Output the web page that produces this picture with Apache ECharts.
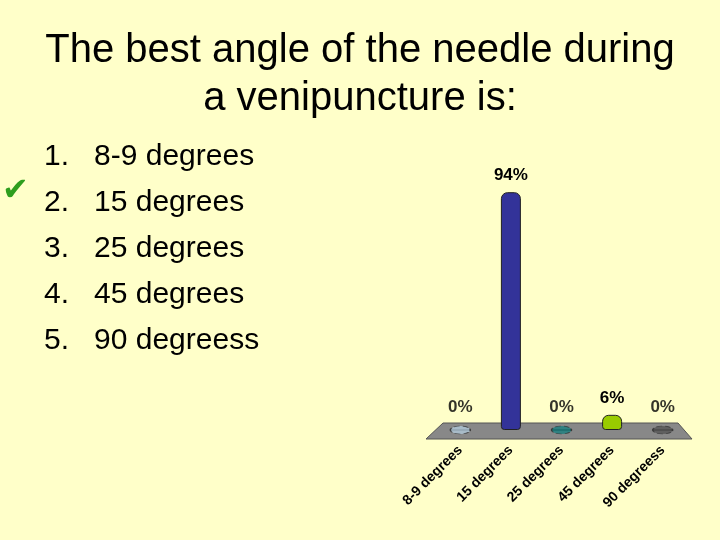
<!DOCTYPE html>
<html>
<head>
<meta charset="utf-8">
<script src="https://cdn.jsdelivr.net/npm/echarts@6/dist/echarts.min.js"></script>
<style>
  html, body { margin: 0; padding: 0; background: #ffffc9; }
  #chart { width: 720px; height: 540px; }
</style>
</head>
<body>
<div id="chart"></div>
<script>
// answer choices and responses
const categories = ['8-9 degrees', '15 degrees', '25 degrees', '45 degrees', '90 degreess'];
const percents = [0, 94, 0, 6, 0];
const barColors = ['#b0c8d8', '#333399', '#1a8080', '#99cc00', '#555555'];
const choices = ['8-9 degrees', '15 degrees', '25 degrees', '45 degrees', '90 degreess'];

const chart = echarts.init(document.getElementById('chart'));

let listText = choices.map((c, i) => (i + 1) + '.   ' + c).join('\n');

chart.setOption({
  backgroundColor: '#ffffc9',
  title: {
    text: 'The best angle of the needle during\na venipuncture is:',
    left: 'center', top: 22,
    textStyle: { fontFamily: 'Liberation Sans', fontWeight: 'normal', fontSize: 40, color: '#000', lineHeight: 48 }
  },
  graphic: [
    { type: 'text', left: 44, top: 134,
      style: { text: listText, font: '30px Liberation Sans', fill: '#000', lineHeight: 46 } },
    { type: 'text', left: 2, top: 176,
      style: { text: '✔', font: 'bold 32px DejaVu Sans', fill: '#2e9e1e' } },
    { type: 'polygon', z: 0,
      shape: { points: [[443, 423], [678, 423], [692, 439], [426, 439]] },
      style: { fill: '#888888', stroke: '#555', lineWidth: 1 } }
  ],
  grid: { left: 435, right: 32, top: 177, bottom: 110 },
  xAxis: {
    type: 'category', data: categories,
    axisLine: { show: false }, axisTick: { show: false },
    axisLabel: { rotate: 45, interval: 0, margin: 18, fontFamily: 'Liberation Sans', fontWeight: 'bold', fontSize: 14, color: '#000' }
  },
  yAxis: { type: 'value', min: 0, max: 100, show: false },
  series: [
    {
      type: 'bar', barWidth: 20, z: 3,
      data: percents.map((v, i) => ({
        value: v, itemStyle: { color: barColors[i] },
        label: { show: v > 0 }
      })),
      itemStyle: { borderColor: '#222', borderWidth: 1, borderRadius: [6, 6, 3, 3] },
      label: { position: 'top', distance: 8, formatter: '{c}%',
        fontFamily: 'Liberation Sans', fontWeight: 'bold', fontSize: 17, color: '#000' }
    },
    {
      type: 'scatter', z: 4,
      data: percents.map((v, i) => ({ value: v === 0 ? 0 : null, itemStyle: { color: barColors[i] } })),
      symbol: 'path://M0,5a10,5 0 1,0 20,0a10,5 0 1,0 -20,0',
      symbolSize: [20, 8],
      itemStyle: { borderColor: '#333', borderWidth: 1, borderType: 'dashed' },
      label: { show: true, position: 'top', distance: 10, formatter: '0%',
        fontFamily: 'Liberation Sans', fontWeight: 'bold', fontSize: 17, color: '#000' }
    }
  ]
});
</script>
</body>
</html>
